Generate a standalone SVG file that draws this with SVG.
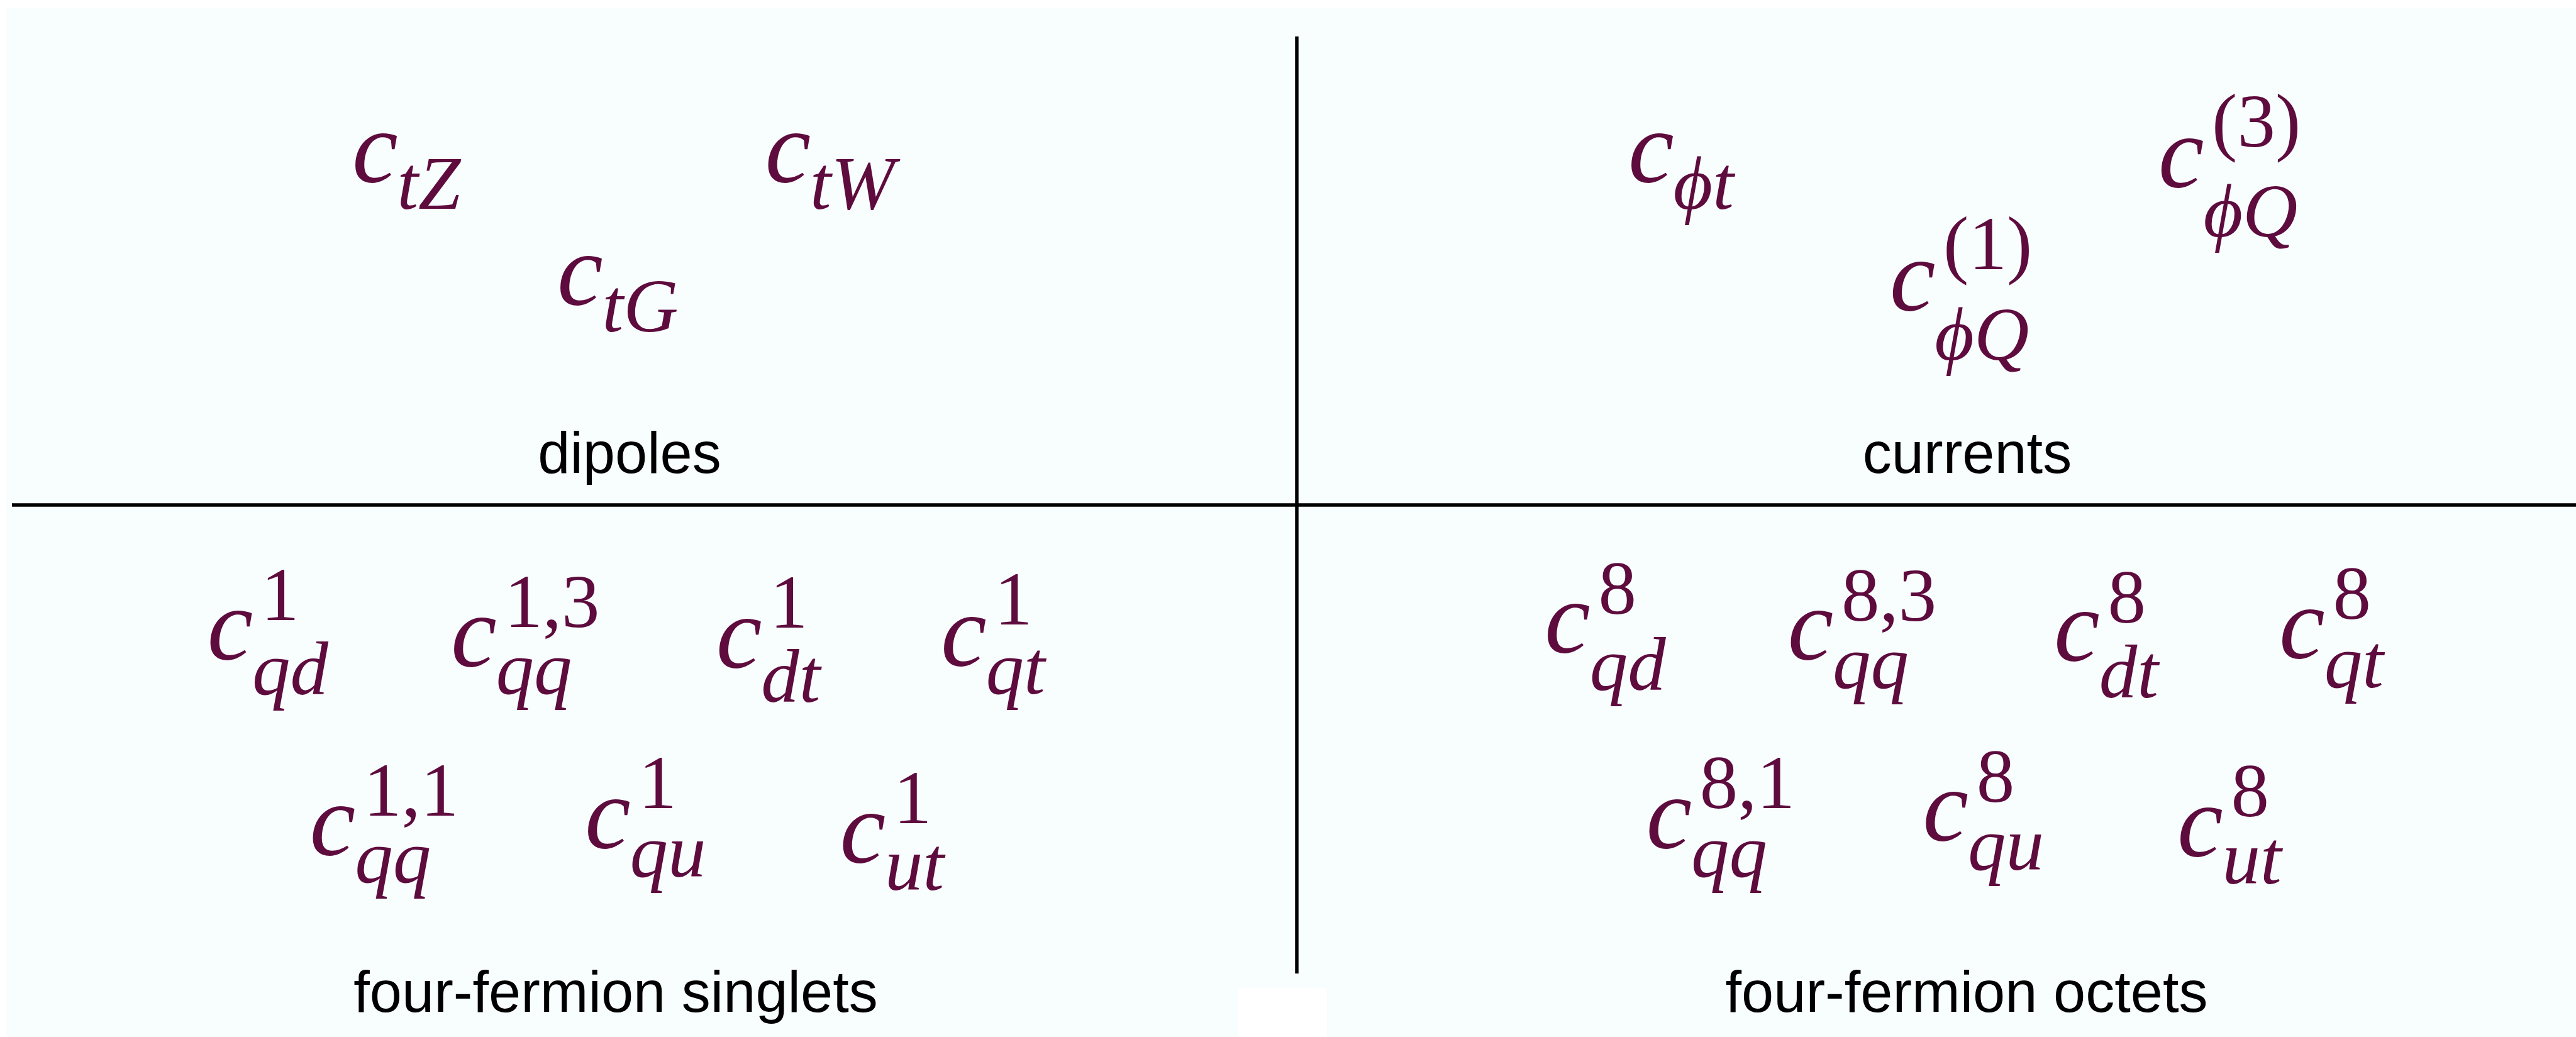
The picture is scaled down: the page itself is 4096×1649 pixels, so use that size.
<svg xmlns="http://www.w3.org/2000/svg" width="4096" height="1649" viewBox="0 0 4096 1649">
<style>
.m{font-family:"Liberation Serif","Times New Roman",serif;font-style:italic;fill:#5e0b3e;font-size:164px}
.s{font-size:121px}
.r{font-style:normal}
.lab{font-family:"Liberation Sans",Arial,sans-serif;font-size:92px;fill:#000;text-anchor:middle}
.ln{stroke:#000;stroke-width:5.5;fill:none}
</style>
<rect x="0" y="0" width="4096" height="1649" fill="#ffffff"/>
<rect x="10" y="13" width="4086" height="1636" fill="#f8fdfd"/>
<rect x="1968" y="1571" width="142" height="78" fill="#ffffff"/>
<g id="connectors">
<line class="ln" x1="19" y1="803" x2="4096" y2="803"/>
<line class="ln" x1="2062" y1="58" x2="2062" y2="1548"/>
</g>
<g id="dipoles">
<g id="ctZ"><text class="m"><tspan x="559.9" y="289">c</tspan><tspan class="s" x="631.5" y="332">tZ</tspan></text></g>
<g id="ctW"><text class="m"><tspan x="1216.4" y="289">c</tspan><tspan class="s" x="1288" y="332">tW</tspan></text></g>
<g id="ctG"><text class="m"><tspan x="886" y="484">c</tspan><tspan class="s" x="957.6" y="527">tG</tspan></text></g>
<text class="lab" x="1001" y="752">dipoles</text>
</g>
<g id="currents">
<g id="cphit"><text class="m"><tspan x="2588.9" y="289">c</tspan><tspan class="s" x="2660.5" y="332">ϕt</tspan></text></g>
<g id="cphiQ1"><text class="m"><tspan x="3004.7" y="492.6">c</tspan><tspan class="s r" x="3090.1" y="427.9">(1)</tspan><tspan class="s" x="3076.3" y="572">ϕQ</tspan></text></g>
<g id="cphiQ3"><text class="m"><tspan x="3431.7" y="296.8">c</tspan><tspan class="s r" x="3517.1" y="232.9">(3)</tspan><tspan class="s" x="3503.4" y="376.1">ϕQ</tspan></text></g>
<text class="lab" x="3128" y="752">currents</text>
</g>
<g id="singlets">
<g id="c1qd"><text class="m"><tspan x="329.5" y="1048.2">c</tspan><tspan class="s r" x="415" y="986">1</tspan><tspan class="s" x="401.1" y="1104.2">qd</tspan></text></g>
<g id="c13qq"><text class="m"><tspan x="716.9" y="1058.5">c</tspan><tspan class="s r" x="802.3" y="997.3">1,3</tspan><tspan class="s" x="788.5" y="1103.4">qq</tspan></text></g>
<g id="c1dt"><text class="m"><tspan x="1138.7" y="1061.1">c</tspan><tspan class="s r" x="1224.1" y="998.1">1</tspan><tspan class="s" x="1210.3" y="1116.3">dt</tspan></text></g>
<g id="c1qt"><text class="m"><tspan x="1495.9" y="1057.6">c</tspan><tspan class="s r" x="1581.3" y="993">1</tspan><tspan class="s" x="1567.5" y="1102.5">qt</tspan></text></g>
<g id="c11qq"><text class="m"><tspan x="492.6" y="1358.7">c</tspan><tspan class="s r" x="578" y="1296.6">1,1</tspan><tspan class="s" x="564.2" y="1402.7">qq</tspan></text></g>
<g id="c1qu"><text class="m"><tspan x="930" y="1347.5">c</tspan><tspan class="s r" x="1015.4" y="1285.4">1</tspan><tspan class="s" x="1001.6" y="1394.1">qu</tspan></text></g>
<g id="c1ut"><text class="m"><tspan x="1335.4" y="1370.8">c</tspan><tspan class="s r" x="1420.8" y="1308.7">1</tspan><tspan class="s" x="1407" y="1414.8">ut</tspan></text></g>
<text class="lab" x="979" y="1609">four-fermion singlets</text>
</g>
<g id="octets">
<g id="c8qd"><text class="m"><tspan x="2456.1" y="1036.9">c</tspan><tspan class="s r" x="2541.5" y="975.7">8</tspan><tspan class="s" x="2527.7" y="1096.5">qd</tspan></text></g>
<g id="c83qq"><text class="m"><tspan x="2842.5" y="1048.2">c</tspan><tspan class="s r" x="2928" y="986.9">8,3</tspan><tspan class="s" x="2914.1" y="1093.9">qq</tspan></text></g>
<g id="c8dt"><text class="m"><tspan x="3266.1" y="1049.9">c</tspan><tspan class="s r" x="3351.5" y="989.5">8</tspan><tspan class="s" x="3337.7" y="1108.5">dt</tspan></text></g>
<g id="c8qt"><text class="m"><tspan x="3624.1" y="1045.6">c</tspan><tspan class="s r" x="3709.5" y="984.3">8</tspan><tspan class="s" x="3695.7" y="1093">qt</tspan></text></g>
<g id="c81qq"><text class="m"><tspan x="2617.4" y="1348.4">c</tspan><tspan class="s r" x="2702.8" y="1285.4">8,1</tspan><tspan class="s" x="2689" y="1394.1">qq</tspan></text></g>
<g id="c8qu"><text class="m"><tspan x="3057.3" y="1336.3">c</tspan><tspan class="s r" x="3142.7" y="1275">8</tspan><tspan class="s" x="3128.9" y="1382.9">qu</tspan></text></g>
<g id="c8ut"><text class="m"><tspan x="3461.9" y="1361.3">c</tspan><tspan class="s r" x="3547.4" y="1297.5">8</tspan><tspan class="s" x="3533.5" y="1405.3">ut</tspan></text></g>
<text class="lab" x="3127" y="1609">four-fermion octets</text>
</g>
</svg>
